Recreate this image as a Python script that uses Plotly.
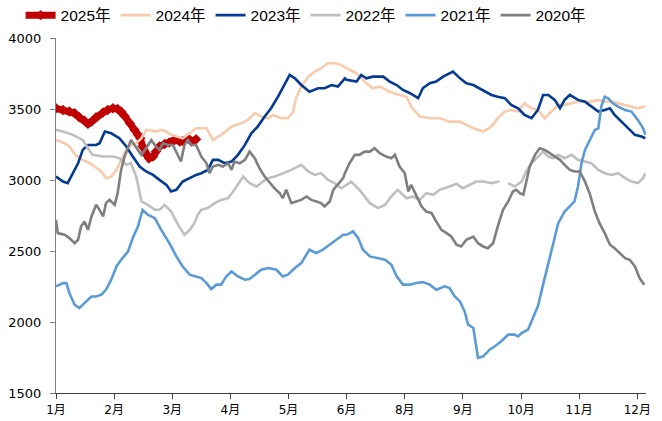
import plotly.graph_objects as go

# x positions are in month-tick units (0 = 1月 ... 10 = 12月, 7月 label absent)
tick_labels = ['1月', '2月', '3月', '4月', '5月', '6月', '8月', '9月', '10月', '11月', '12月']
series_names = ['2025年', '2024年', '2023年', '2022年', '2021年', '2020年']

x2025 = [0.0, 0.12, 0.23, 0.32, 0.40, 0.49, 0.55, 0.61, 0.69, 0.81, 0.89, 0.98, 1.06, 1.12, 1.18,
         1.27, 1.35, 1.41, 1.45, 1.49, 1.54, 1.60, 1.67, 1.72, 1.78, 1.87, 1.95, 2.04, 2.13, 2.18,
         2.27, 2.33, 2.41]
y2025 = [3505, 3493, 3482, 3470, 3442, 3418, 3395, 3411, 3442, 3475, 3493, 3505, 3500, 3482, 3451,
         3400, 3353, 3318, 3294, 3236, 3184, 3153, 3165, 3200, 3236, 3254, 3264, 3282, 3271, 3275,
         3294, 3271, 3287]

x2024 = [0.0, 0.15, 0.23, 0.32, 0.40, 0.49, 0.58, 0.66, 0.75, 0.81, 0.86, 0.95, 1.04, 1.12, 1.21,
         1.29, 1.38, 1.47, 1.55, 1.64, 1.72, 1.81, 1.90, 1.98, 2.07, 2.18, 2.30, 2.41,
         2.50, 2.59, 2.70, 2.84, 3.02, 3.19, 3.30, 3.42, 3.53, 3.65, 3.73, 3.88, 3.99, 4.08, 4.13,
         4.22, 4.34, 4.45, 4.56, 4.68, 4.79, 4.91,
         5.00, 5.17, 5.34, 5.45, 5.57, 5.74, 5.91, 6.03, 6.11, 6.26, 6.43, 6.60, 6.77, 6.95, 7.06,
         7.18, 7.35,
         7.49, 7.60, 7.72, 7.83, 7.95, 8.06, 8.18, 8.29, 8.41, 8.52, 8.64, 8.75, 8.87, 8.98, 9.10,
         9.21, 9.33, 9.44, 9.56, 9.67, 9.79, 9.90, 10.01, 10.13]
y2024 = [3282, 3259, 3236, 3184, 3153, 3137, 3118, 3095, 3071, 3043, 3013, 3024, 3071, 3142, 3212,
         3247, 3259, 3294, 3353, 3348, 3341, 3353, 3341, 3318, 3306, 3294, 3329, 3364,
         3364, 3364, 3282, 3318, 3376, 3400, 3423, 3470, 3447, 3435, 3458, 3435, 3435, 3482, 3576,
         3658, 3728, 3763, 3787, 3822, 3822, 3810,
         3787, 3751, 3681, 3646, 3658, 3622, 3599, 3587, 3517, 3447, 3435, 3435, 3411, 3411, 3388,
         3364, 3341,
         3376, 3435, 3482, 3493, 3482, 3540, 3505, 3493, 3435, 3482, 3529, 3529, 3540, 3552, 3552,
         3552, 3564, 3552, 3552, 3540, 3529, 3517, 3505, 3517]

x2023 = [0.0, 0.12, 0.20, 0.29, 0.38, 0.46, 0.55, 0.69, 0.75, 0.84, 0.95, 1.09, 1.21, 1.32, 1.44,
         1.55, 1.67, 1.78, 1.90, 1.98, 2.07, 2.18, 2.30, 2.41,
         2.50, 2.61, 2.70, 2.79, 2.90, 3.02, 3.13, 3.25, 3.36, 3.47, 3.59, 3.70, 3.82, 3.93, 4.02,
         4.11, 4.22, 4.36, 4.51, 4.62, 4.74, 4.85, 4.97,
         5.00, 5.17, 5.25, 5.34, 5.45, 5.63, 5.74, 5.86, 5.97, 6.09, 6.23, 6.31, 6.43, 6.54, 6.66,
         6.83, 6.95, 7.06, 7.18, 7.29, 7.40,
         7.49, 7.60, 7.72, 7.83, 7.95, 8.06, 8.18, 8.29, 8.38, 8.47, 8.58, 8.67, 8.75, 8.84, 8.98,
         9.10, 9.21, 9.33, 9.44, 9.53, 9.61, 9.73, 9.84, 9.96, 10.07, 10.14]
y2023 = [3024, 2989, 2978, 3048, 3118, 3212, 3247, 3247, 3259, 3341, 3329, 3294, 3236, 3165, 3095,
         3060, 3036, 3001, 2966, 2919, 2931, 2989, 3013, 3036,
         3048, 3071, 3142, 3142, 3118, 3130, 3177, 3247, 3329, 3376, 3447, 3505, 3587, 3669, 3740,
         3716, 3669, 3622, 3646, 3646, 3669, 3658, 3716,
         3705, 3693, 3740, 3716, 3728, 3728, 3693, 3669, 3634, 3611, 3576, 3646, 3681, 3693, 3728,
         3763, 3716, 3681, 3669, 3646, 3622,
         3599, 3587, 3576, 3529, 3505, 3458, 3435, 3493, 3599, 3599, 3564, 3505, 3564, 3599, 3564,
         3552, 3517, 3482, 3493, 3505, 3458, 3411, 3364, 3318, 3306, 3294]

x2022 = [0.0, 0.12, 0.29, 0.46, 0.55, 0.63, 0.81, 0.98, 1.09, 1.21, 1.29, 1.38, 1.47, 1.58, 1.70,
         1.78, 1.87, 1.98, 2.10, 2.21, 2.30, 2.38, 2.44,
         2.50, 2.61, 2.73, 2.84, 2.96, 3.07, 3.22, 3.33, 3.45, 3.56, 3.65, 3.76, 3.90, 4.05, 4.22,
         4.34, 4.45, 4.56, 4.68, 4.79, 4.91,
         5.00, 5.08, 5.22, 5.40, 5.54, 5.66, 5.77, 5.88, 6.03, 6.14, 6.26, 6.37, 6.49, 6.60, 6.77,
         6.89, 7.00, 7.12, 7.23, 7.35,
         7.49, 7.63, 7.70, 7.78, 7.89, 8.01, 8.09, 8.18, 8.29, 8.38, 8.47, 8.55, 8.64, 8.75, 8.87,
         8.98, 9.10, 9.21, 9.33, 9.44, 9.56, 9.67, 9.79, 9.90, 10.01, 10.10, 10.14]
y2022 = [3353, 3341, 3318, 3282, 3224, 3177, 3165, 3165, 3153, 3107, 3118, 3024, 2849, 2825, 2790,
         2790, 2825, 2778, 2684, 2614, 2649, 2696, 2755,
         2790, 2802, 2837, 2860, 2872, 2931, 3024, 2978, 2954, 2989, 3013, 3024, 3048, 3071, 3107,
         3060, 3036, 3048, 3001, 2978, 2942,
         2966, 2989, 2931, 2837, 2802, 2825, 2884, 2931, 2872, 2884, 2860, 2907, 2896, 2931, 2954,
         2973, 2942, 2966, 2989, 2989,
         2978, 2989, None, 2978, 2954, 2989, 3060, 3118, 3165, 3200, 3165, 3153, 3177, 3153, 3177,
         3142, 3130, 3118, 3071, 3048, 3036, 3048, 3013, 2989, 2978, 3013, 3048]

x2021 = [0.0, 0.12, 0.18, 0.23, 0.32, 0.40, 0.49, 0.61, 0.69, 0.78, 0.86, 0.95, 1.04, 1.12, 1.24,
         1.32, 1.41, 1.49, 1.58, 1.70, 1.81, 1.95, 2.07, 2.18, 2.30, 2.41,
         2.50, 2.59, 2.67, 2.76, 2.84, 2.93, 3.02, 3.13, 3.25, 3.33, 3.42, 3.53, 3.65, 3.79, 3.90,
         3.99, 4.11, 4.22, 4.36, 4.48, 4.59, 4.71, 4.82, 4.94,
         5.00, 5.11, 5.20, 5.28, 5.40, 5.51, 5.66, 5.77, 5.86, 5.97, 6.09, 6.20, 6.31, 6.43, 6.54,
         6.69, 6.77, 6.86, 6.95, 7.03, 7.09, 7.18, 7.23, 7.26, 7.35,
         7.46, 7.55, 7.66, 7.78, 7.89, 7.95, 8.01, 8.12, 8.21, 8.29, 8.38, 8.47, 8.55, 8.64, 8.75,
         8.84, 8.92, 8.98, 9.04, 9.10, 9.18, 9.27, 9.33, 9.38, 9.44, 9.50, 9.58, 9.67, 9.79, 9.90,
         10.01, 10.10, 10.14]
y2021 = [2251, 2274, 2274, 2204, 2122, 2098, 2133, 2180, 2180, 2192, 2227, 2298, 2391, 2438, 2497,
         2591, 2673, 2790, 2755, 2731, 2649, 2555, 2462, 2391, 2333, 2321,
         2309, 2274, 2232, 2263, 2263, 2321, 2356, 2321, 2298, 2302, 2333, 2368, 2380, 2368, 2321,
         2333, 2380, 2415, 2509, 2485, 2509, 2544, 2579, 2614,
         2614, 2638, 2591, 2509, 2462, 2450, 2438, 2403, 2321, 2263, 2263, 2274, 2281, 2263, 2227,
         2251, 2239, 2180, 2145, 2075, 1981, 1958, 1805, 1747, 1758,
         1805, 1829, 1864, 1911, 1911, 1899, 1922, 1946, 2040, 2110, 2263, 2415, 2555, 2696, 2778,
         2813, 2849, 2954, 3118, 3212, 3282, 3353, 3364, 3517, 3587, 3576, 3540, 3517, 3493, 3482,
         3423, 3364, 3318]

x2020 = [0.0, 0.03, 0.15, 0.23, 0.32, 0.38, 0.43, 0.49, 0.55, 0.61, 0.69, 0.75, 0.81, 0.86, 0.92,
         1.01, 1.06, 1.12, 1.18, 1.24, 1.29, 1.35, 1.41, 1.47, 1.55, 1.64, 1.72, 1.78, 1.84, 1.93,
         2.01, 2.10, 2.15, 2.21, 2.27, 2.33, 2.41,
         2.50, 2.59, 2.64, 2.70, 2.79, 2.87, 2.96, 3.02, 3.07, 3.16, 3.25, 3.33, 3.42, 3.50, 3.59,
         3.68, 3.76, 3.85, 3.90, 3.96, 4.05, 4.13, 4.22, 4.31, 4.39, 4.48, 4.56, 4.62, 4.71, 4.77,
         4.85, 4.94,
         4.97, 5.05, 5.14, 5.22, 5.31, 5.40, 5.48, 5.57, 5.68, 5.77, 5.83, 5.91, 6.00, 6.06, 6.11,
         6.20, 6.29, 6.37, 6.46, 6.54, 6.63, 6.72, 6.80, 6.89, 6.97, 7.06, 7.18, 7.26, 7.35, 7.43,
         7.52, 7.60, 7.69, 7.78, 7.86, 7.92, 7.98, 8.04, 8.09, 8.15, 8.24, 8.32, 8.41, 8.49, 8.58,
         8.67, 8.75, 8.84, 8.92, 9.01, 9.10, 9.18, 9.27, 9.35, 9.44, 9.53, 9.61, 9.70, 9.79, 9.87,
         9.96, 10.04, 10.12]
y2020 = [2720, 2626, 2614, 2591, 2555, 2579, 2673, 2708, 2649, 2743, 2825, 2790, 2743, 2837, 2860,
         2825, 2907, 3071, 3165, 3236, 3282, 3247, 3212, 3177, 3224, 3282, 3236, 3212, 3259, 3247,
         3247, 3165, 3130, 3247, 3282, 3247, 3247,
         3165, 3118, 3048, 3095, 3107, 3095, 3118, 3071, 3130, 3118, 3142, 3200, 3153, 3083, 3024,
         2978, 2942, 2907, 2872, 2931, 2837, 2849, 2860, 2884, 2860, 2849, 2837, 2813, 2849, 2931,
         2966, 3013,
         3048, 3118, 3177, 3177, 3200, 3200, 3224, 3189, 3165, 3153, 3177, 3095, 3048, 2919, 2966,
         2884, 2813, 2778, 2767, 2708, 2649, 2626, 2602, 2544, 2532, 2579, 2602, 2555, 2532, 2520,
         2555, 2673, 2790, 2849, 2919, 2931, 2907, 2896, 2978, 3095, 3177, 3224, 3212, 3189, 3165,
         3142, 3107, 3071, 3060, 3060, 2989, 2907, 2778, 2696, 2626, 2544, 2520, 2485, 2450, 2438,
         2391, 2309, 2263]

colors = ['#C00000', '#F8CBAD', '#043A92', '#BFBFBF', '#5B9BD5', '#7F7F7F']
xs = [x2025, x2024, x2023, x2022, x2021, x2020]
ys = [y2025, y2024, y2023, y2022, y2021, y2020]

fig = go.Figure()
for i, (name, xv, yv, c) in enumerate(zip(series_names, xs, ys, colors)):
    if i == 0:
        fig.add_trace(go.Scatter(x=xv, y=yv, name=name, mode='lines+markers',
                                 line=dict(color=c, width=7),
                                 marker=dict(symbol='diamond', size=8, color=c)))
    else:
        fig.add_trace(go.Scatter(x=xv, y=yv, name=name, mode='lines',
                                 line=dict(color=c, width=2.6), connectgaps=False))

fig.update_layout(
    width=662, height=421,
    margin=dict(l=56, r=16, t=38, b=28, autoexpand=False),
    paper_bgcolor='white', plot_bgcolor='white',
    font=dict(family='DejaVu Sans, Noto Sans CJK SC', size=12, color='#000000'),
    showlegend=True,
    legend=dict(orientation='h', x=-0.06, xanchor='left', y=1.111, yanchor='top',
                font=dict(family='Liberation Sans, Noto Sans CJK SC', size=15.5, color='#000000'),
                tracegroupgap=0, bgcolor='rgba(0,0,0,0)', itemwidth=30),
    xaxis=dict(range=[0, 10.15], tickmode='array', tickvals=list(range(11)), ticktext=tick_labels,
               showgrid=False, zeroline=False, showline=True, linecolor='#404040', linewidth=1.3,
               ticks='outside', ticklen=5, tickcolor='#404040', tickwidth=1.3, automargin=False,
               tickfont=dict(family='DejaVu Sans, Noto Sans CJK SC', size=12)),
    yaxis=dict(range=[1500, 4000], tickmode='array', tickvals=[1500, 2000, 2500, 3000, 3500, 4000],
               showgrid=False, zeroline=False, showline=True, linecolor='#7F7F7F', linewidth=1.3,
               ticks='outside', ticklen=5, tickcolor='#7F7F7F', tickwidth=1.3, automargin=False,
               ticklabelstandoff=6,
               tickfont=dict(family='DejaVu Sans, Noto Sans CJK SC', size=13)),
)

fig.write_html('out.html', config={'displayModeBar': False},
               post_script="document.body.style.margin='0';")
